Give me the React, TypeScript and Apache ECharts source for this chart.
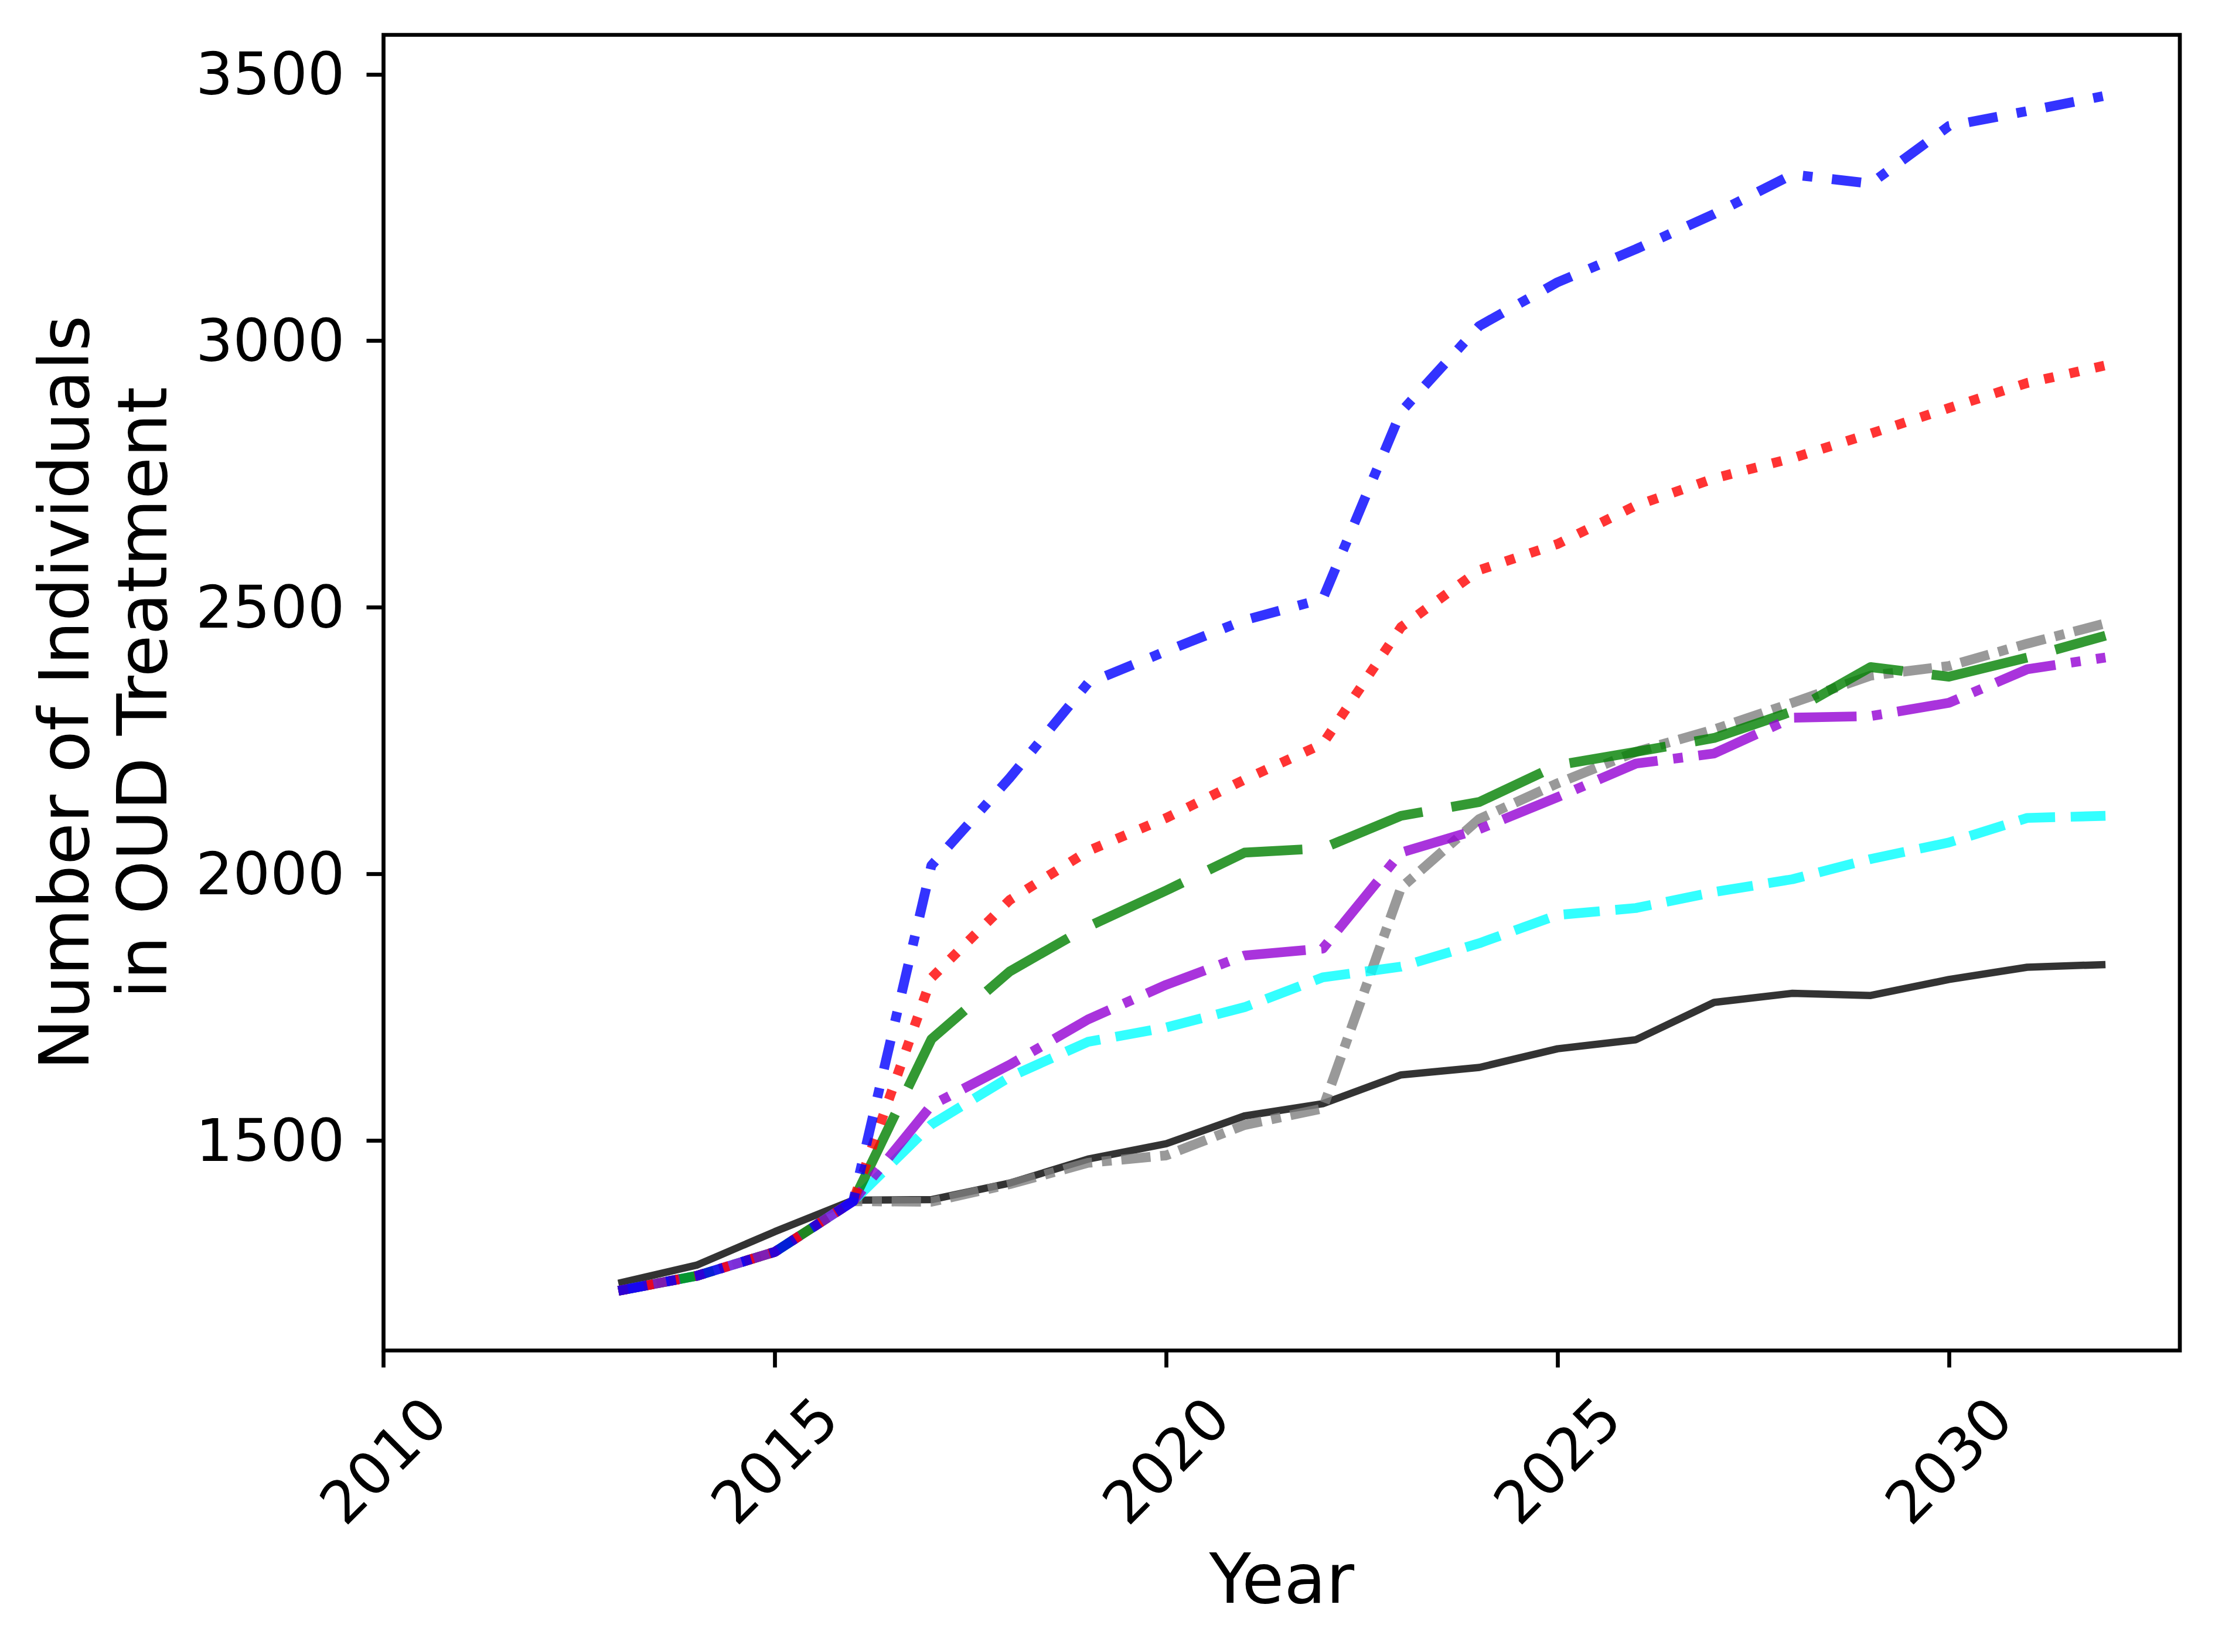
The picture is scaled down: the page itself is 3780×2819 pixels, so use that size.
import React, { useEffect, useRef } from "react";
import * as echarts from "echarts";

// ---- Data ----
const years = [
  2013, 2014, 2015, 2016, 2017, 2018, 2019, 2020, 2021, 2022,
  2023, 2024, 2025, 2026, 2027, 2028, 2029, 2030, 2031, 2032,
];

const blackSolid = [1232, 1266, 1329, 1388, 1389, 1420, 1465, 1494, 1546, 1569, 1623, 1637, 1672, 1689, 1759, 1776, 1772, 1802, 1825, 1830];
const grayDashDot = [1218, 1246, 1291, 1386, 1385, 1418, 1458, 1472, 1529, 1560, 1974, 2103, 2170, 2229, 2271, 2321, 2372, 2390, 2432, 2470];
const cyanDashed = [1218, 1246, 1291, 1386, 1530, 1619, 1685, 1712, 1750, 1806, 1826, 1870, 1923, 1936, 1966, 1990, 2028, 2059, 2105, 2109];
const purpleDashDot = [1218, 1246, 1291, 1386, 1566, 1642, 1727, 1792, 1847, 1860, 2040, 2084, 2144, 2207, 2226, 2293, 2296, 2321, 2384, 2406];
const greenLongDash = [1218, 1246, 1291, 1386, 1690, 1817, 1901, 1969, 2040, 2048, 2109, 2135, 2204, 2229, 2255, 2305, 2388, 2370, 2406, 2447];
const redDotted = [1218, 1246, 1291, 1386, 1805, 1951, 2043, 2105, 2177, 2244, 2463, 2570, 2619, 2691, 2742, 2780, 2826, 2874, 2921, 2954];
const blueDashDot = [1218, 1246, 1291, 1386, 2016, 2180, 2358, 2418, 2476, 2516, 2867, 3028, 3110, 3172, 3238, 3312, 3295, 3403, 3431, 3460];

const xTickValues = [2010, 2015, 2020, 2025, 2030];
const yTickValues = [1500, 2000, 2500, 3000, 3500];

const X_MIN = 2010;
const X_MAX = 2032.95;
const Y_MIN = 1106;
const Y_MAX = 3574;

const FONT = "DejaVu Sans";

type SeriesDef = {
  name: string;
  values: number[];
  color: string;
  width: number;
  dash: "solid" | number[];
};

const seriesDefs: SeriesDef[] = [
  { name: "Black", values: blackSolid, color: "#000000", width: 12.5, dash: "solid" },
  { name: "Gray", values: grayDashDot, color: "#808080", width: 16.7, dash: [50, 16.7, 16.7, 16.7] },
  { name: "Cyan", values: cyanDashed, color: "#00ffff", width: 16.7, dash: [61.7, 26.7] },
  { name: "Green", values: greenLongDash, color: "#008000", width: 16.7, dash: [166.7, 50] },
  { name: "Purple", values: purpleDashDot, color: "#9400d3", width: 16.7, dash: [106.7, 26.7, 16.7, 26.7] },
  { name: "Red", values: redDotted, color: "#ff0000", width: 16.7, dash: [16.7, 27.5] },
  { name: "Blue", values: blueDashDot, color: "#0000ff", width: 16.7, dash: [50, 33.3, 16.7, 33.3] },
];

export default function App() {
  const ref = useRef<HTMLDivElement | null>(null);

  useEffect(() => {
    if (!ref.current) return;
    const chart = echarts.init(ref.current, null, { renderer: "svg" });

    const option: any = {
      animation: false,
      backgroundColor: "#ffffff",
      grid: {
        left: 654.5,
        right: 60,
        top: 59.5,
        bottom: 514.5,
        show: true,
        borderColor: "#000000",
        borderWidth: 6.7,
        backgroundColor: "transparent",
        containLabel: false,
      },
      xAxis: {
        type: "value",
        min: X_MIN,
        max: X_MAX,
        splitLine: { show: false },
        axisLine: { show: false, onZero: false },
        axisTick: {
          show: true,
          length: 29,
          customValues: xTickValues,
          lineStyle: { color: "#000000", width: 6.7 },
        },
        axisLabel: {
          show: true,
          customValues: xTickValues,
          rotate: 45,
          align: "center",
          verticalAlign: "middle",
          margin: 188,
          fontSize: 100,
          fontFamily: FONT,
          color: "#000000",
          formatter: (v: number) => String(v),
        },
        name: "Year",
        nameLocation: "middle",
        nameGap: 331,
        nameTextStyle: { fontSize: 117, fontFamily: FONT, color: "#000000" },
      },
      yAxis: {
        type: "value",
        min: Y_MIN,
        max: Y_MAX,
        splitLine: { show: false },
        axisLine: { show: false, onZero: false },
        axisTick: {
          show: true,
          length: 29,
          customValues: yTickValues,
          lineStyle: { color: "#000000", width: 6.7 },
        },
        axisLabel: {
          show: true,
          customValues: yTickValues,
          margin: 66,
          fontSize: 100,
          fontFamily: FONT,
          color: "#000000",
          formatter: (v: number) => String(v),
        },
        name: "Number of Individuals\nin OUD Treatment",
        nameLocation: "middle",
        nameRotate: 90,
        nameGap: 345,
        nameTextStyle: {
          fontSize: 117,
          fontFamily: FONT,
          color: "#000000",
          lineHeight: 133,
          align: "center",
        },
      },
      series: seriesDefs.map((s) => ({
        name: s.name,
        type: "line",
        data: years.map((y, i) => [y, s.values[i]]),
        showSymbol: false,
        symbol: "none",
        silent: true,
        clip: true,
        lineStyle: {
          color: s.color,
          width: s.width,
          opacity: 0.8,
          type: s.dash,
          cap: "butt",
          join: "round",
        },
        emphasis: { disabled: true },
      })),
    };

    chart.setOption(option);
    return () => {
      chart.dispose();
    };
  }, []);

  return (
    <div
      ref={ref}
      style={{ position: "absolute", left: 0, top: 0, width: 3780, height: 2819 }}
    />
  );
}
